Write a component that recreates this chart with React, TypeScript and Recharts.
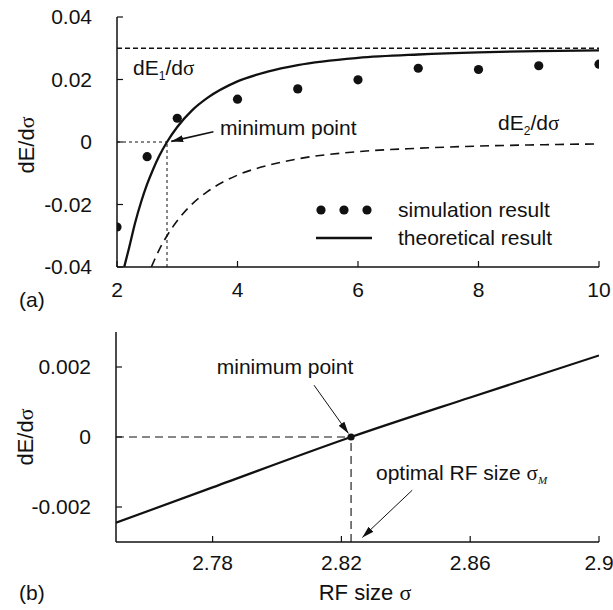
import React from "react";
import {
  ComposedChart,
  Line,
  Scatter,
  XAxis,
  YAxis,
  ReferenceLine,
  ReferenceDot,
} from "recharts";

const FONT = '"Liberation Sans", Arial, Helvetica, sans-serif';
const SERIF = '"Liberation Serif", "Times New Roman", serif';
const FS = 21;
const TICK_LEN = 6;
const INK = "#111";

// (a) simulation vs. theory over the full sigma range
const simSigma = [2, 2.5, 3, 4, 5, 6, 7, 8, 9, 10];
const simValue = [-0.0272, -0.0047, 0.0076, 0.0137, 0.017, 0.0199, 0.0236, 0.0232, 0.0244, 0.0249];

const theorySigma = [2.12, 2.2, 2.3, 2.4, 2.5, 2.6, 2.7, 2.83, 3, 3.25, 3.5, 4, 4.5, 5, 6, 7, 8, 9, 10];
const theoryValue = [-0.04, -0.0339, -0.0259, -0.0192, -0.0135, -0.0087, -0.0045, 0, 0.0048, 0.0102, 0.0141, 0.0194, 0.0225, 0.0246, 0.0269, 0.028, 0.0287, 0.0291, 0.0293];

const dE1Sigma = [2, 10];
const dE1Value = [0.03, 0.03];

const dE2Sigma = [2.57, 2.6, 2.7, 2.83, 3, 3.25, 3.5, 4, 4.5, 5, 6, 7, 8, 9, 10];
const dE2Value = [-0.04, -0.0387, -0.0345, -0.03, -0.0252, -0.0198, -0.0159, -0.0106, -0.0075, -0.0054, -0.0031, -0.002, -0.0013, -0.0009, -0.0006];

const topXTicks = [2, 4, 6, 8, 10];
const topYTicks = [-0.04, -0.02, 0, 0.02, 0.04];
const topMinSigma = 2.83;

// (b) zoom around the zero crossing
const zoomSigma = [2.75, 2.78, 2.823, 2.86, 2.9];
const zoomValue = [-0.00245, -0.00144, 0, 0.00113, 0.00233];
const zoomXTicks = [2.78, 2.82, 2.86, 2.9];
const zoomYTicks = [-0.002, 0, 0.002];
const zoomMinSigma = 2.823;

const toPoints = (xs: number[], ys: number[]) => xs.map((x, i) => ({ x, y: ys[i] }));

const simPoints = toPoints(simSigma, simValue);
const theoryPoints = toPoints(theorySigma, theoryValue);
const dE1Points = toPoints(dE1Sigma, dE1Value);
const dE2Points = toPoints(dE2Sigma, dE2Value);
const zoomPoints = toPoints(zoomSigma, zoomValue);

const fmtTick = (v: number) => (v === 0 ? "0" : String(v));

function BottomTick(props: any) {
  const { x, y, payload, gap } = props;
  return (
    <g>
      <line x1={x} x2={x} y1={y} y2={y - TICK_LEN} stroke={INK} strokeWidth={1.2} />
      <text x={x} y={y + gap} dy="0.355em" textAnchor="middle" fontFamily={FONT} fontSize={FS} fill={INK}>
        {fmtTick(payload.value)}
      </text>
    </g>
  );
}

function LeftTick(props: any) {
  const { x, y, payload } = props;
  return (
    <g>
      <line x1={x} x2={x + TICK_LEN} y1={y} y2={y} stroke={INK} strokeWidth={1.2} />
      <text x={x - 25} y={y} dy="0.355em" textAnchor="end" fontFamily={FONT} fontSize={FS} fill={INK}>
        {fmtTick(payload.value)}
      </text>
    </g>
  );
}

function TopTick(props: any) {
  const { x, y } = props;
  return <line x1={x} x2={x} y1={y} y2={y + TICK_LEN} stroke={INK} strokeWidth={1.2} />;
}

function RightTick(props: any) {
  const { x, y } = props;
  return <line x1={x} x2={x - TICK_LEN} y1={y} y2={y} stroke={INK} strokeWidth={1.2} />;
}

function Arrow(props: any) {
  const { x1, y1, x2, y2, width } = props;
  return (
    <line
      x1={x1}
      y1={y1}
      x2={x2}
      y2={y2}
      stroke={INK}
      strokeWidth={width ?? 1}
      markerEnd="url(#arrowHead)"
    />
  );
}

const dot = (r: number) => (p: any) => <circle cx={p.cx} cy={p.cy} r={r} fill={INK} />;

// frame: four axes, ticks pointing inward on every side
function frameAxes(
  xDomain: [number, number],
  yDomain: [number, number],
  xTicks: number[],
  yTicks: number[],
  leftWidth: number,
  bottomHeight: number,
  gap: number
) {
  const axisLine = { stroke: INK, strokeWidth: 1.5 };
  return [
    <XAxis
      key="xb"
      type="number"
      dataKey="x"
      domain={xDomain}
      ticks={xTicks}
      interval={0}
      allowDataOverflow
      height={bottomHeight}
      tickSize={0}
      tickMargin={0}
      tickLine={false}
      axisLine={axisLine}
      tick={(p: any) => <BottomTick {...p} gap={gap} />}
    />,
    <XAxis
      key="xt"
      xAxisId="top"
      orientation="top"
      type="number"
      dataKey="x"
      domain={xDomain}
      ticks={xTicks}
      interval={0}
      allowDataOverflow
      height={0}
      tickSize={0}
      tickMargin={0}
      tickLine={false}
      axisLine={axisLine}
      tick={(p: any) => <TopTick {...p} />}
    />,
    <YAxis
      key="yl"
      type="number"
      dataKey="y"
      domain={yDomain}
      ticks={yTicks}
      interval={0}
      allowDataOverflow
      width={leftWidth}
      tickSize={0}
      tickMargin={0}
      tickLine={false}
      axisLine={axisLine}
      tick={(p: any) => <LeftTick {...p} />}
    />,
    <YAxis
      key="yr"
      yAxisId="right"
      orientation="right"
      type="number"
      dataKey="y"
      domain={yDomain}
      ticks={yTicks}
      interval={0}
      allowDataOverflow
      width={0}
      tickSize={0}
      tickMargin={0}
      tickLine={false}
      axisLine={axisLine}
      tick={(p: any) => <RightTick {...p} />}
    />,
  ];
}

function OverviewChart() {
  return (
    <ComposedChart width={613} height={310} margin={{ top: 17, right: 14, bottom: 0, left: 0 }}>
      {frameAxes([2, 10], [-0.04, 0.04], topXTicks, topYTicks, 117, 43, 23)}
      <ReferenceLine
        segment={[{ x: 2, y: 0 }, { x: topMinSigma, y: 0 }]}
        stroke={INK}
        strokeWidth={1}
        strokeDasharray="3 3"
      />
      <ReferenceLine
        segment={[{ x: topMinSigma, y: -0.04 }, { x: topMinSigma, y: 0 }]}
        stroke={INK}
        strokeWidth={1}
        strokeDasharray="3 3"
      />
      <Line
        data={dE1Points}
        dataKey="y"
        type="linear"
        stroke={INK}
        strokeWidth={1.5}
        strokeDasharray="5 3"
        dot={false}
        isAnimationActive={false}
      />
      <Line
        data={dE2Points}
        dataKey="y"
        type="monotone"
        stroke={INK}
        strokeWidth={1.6}
        strokeDasharray="9 6"
        dot={false}
        isAnimationActive={false}
      />
      <Line
        data={theoryPoints}
        dataKey="y"
        type="monotone"
        stroke={INK}
        strokeWidth={2.3}
        dot={false}
        isAnimationActive={false}
      />
      <Scatter data={simPoints} dataKey="y" shape={dot(4.6)} isAnimationActive={false} />
      <ReferenceLine
        segment={[{ x: 3.6, y: 0.0033 }, { x: 2.9, y: 0.0002 }]}
        shape={(p: any) => <Arrow {...p} width={1.6} />}
      />
    </ComposedChart>
  );
}

function ZoomChart() {
  return (
    <ComposedChart width={613} height={300} margin={{ top: 22, right: 14, bottom: 0, left: 0 }}>
      {frameAxes([2.75, 2.9], [-0.003, 0.003], zoomXTicks, zoomYTicks, 116, 68, 21)}
      <ReferenceLine
        segment={[{ x: 2.75, y: 0 }, { x: zoomMinSigma, y: 0 }]}
        stroke={INK}
        strokeWidth={1.1}
        strokeDasharray="8 5"
      />
      <ReferenceLine
        segment={[{ x: zoomMinSigma, y: -0.003 }, { x: zoomMinSigma, y: 0 }]}
        stroke={INK}
        strokeWidth={1.1}
        strokeDasharray="8 5"
      />
      <Line
        data={zoomPoints}
        dataKey="y"
        type="monotone"
        stroke={INK}
        strokeWidth={2.2}
        dot={false}
        isAnimationActive={false}
      />
      <ReferenceDot x={zoomMinSigma} y={0} r={3.6} fill={INK} stroke="none" />
      <ReferenceLine
        segment={[{ x: 2.8115, y: 0.00148 }, { x: 2.8222, y: 0.0001 }]}
        shape={(p: any) => <Arrow {...p} width={1} />}
      />
      <ReferenceLine
        segment={[{ x: 2.842, y: -0.00152 }, { x: 2.8265, y: -0.00287 }]}
        shape={(p: any) => <Arrow {...p} width={1} />}
      />
    </ComposedChart>
  );
}

const sigma = (s: string = "σ") => <tspan fontFamily={SERIF}>{s}</tspan>;

function Annotations() {
  const t = { fontFamily: FONT, fontSize: FS, fill: INK };
  const axisTitle = { ...t, fontSize: 22 };
  return (
    <svg width={613} height={610} style={{ position: "absolute", left: 0, top: 0, pointerEvents: "none" }}>
      <text {...t} x={133} y={75}>
        dE<tspan fontSize={12} dy={5}>1</tspan>
        <tspan dy={-5}>/d</tspan>
        {sigma()}
      </text>
      <text {...t} x={498} y={130}>
        dE<tspan fontSize={12} dy={5}>2</tspan>
        <tspan dy={-5}>/d</tspan>
        {sigma()}
      </text>
      <text {...t} x={220} y={135}>minimum point</text>

      {/* legend */}
      <circle cx={321} cy={210} r={4.6} fill={INK} />
      <circle cx={344} cy={210} r={4.6} fill={INK} />
      <circle cx={367} cy={210} r={4.6} fill={INK} />
      <text {...t} x={398} y={217}>simulation result</text>
      <line x1={316} x2={372} y1={238} y2={238} stroke={INK} strokeWidth={2.3} />
      <text {...t} x={398} y={245}>theoretical result</text>

      <text {...axisTitle} x={26} y={145} textAnchor="middle" dominantBaseline="central" transform="rotate(-90 26 145)">
        dE/d{sigma()}
      </text>
      <text {...t} x={19} y={307}>(a)</text>

      <text {...t} x={285} y={374} textAnchor="middle">minimum point</text>
      <text {...t} x={376} y={480}>
        optimal RF size {sigma()}
        <tspan fontFamily={SERIF} fontStyle="italic" fontSize={11} dy={4}>M</tspan>
      </text>
      <text {...axisTitle} x={25} y={437} textAnchor="middle" dominantBaseline="central" transform="rotate(-90 25 437)">
        dE/d{sigma()}
      </text>
      <text {...t} x={19} y={600}>(b)</text>
      <text {...axisTitle} x={365} y={600} textAnchor="middle">
        RF size {sigma()}
      </text>
    </svg>
  );
}

export default function App() {
  return (
    <div style={{ position: "absolute", left: 0, top: 0, width: 613, height: 610, background: "#fff" }}>
      <svg width={0} height={0} style={{ position: "absolute" }}>
        <defs>
          <marker
            id="arrowHead"
            viewBox="0 0 12 8"
            refX={12}
            refY={4}
            markerWidth={12}
            markerHeight={8}
            markerUnits="userSpaceOnUse"
            orient="auto"
          >
            <path d="M0,0.5 L12,4 L0,7.5 z" fill={INK} />
          </marker>
        </defs>
      </svg>
      <div style={{ position: "absolute", left: 0, top: 0 }}>
        <OverviewChart />
      </div>
      <div style={{ position: "absolute", left: 0, top: 310 }}>
        <ZoomChart />
      </div>
      <Annotations />
    </div>
  );
}
